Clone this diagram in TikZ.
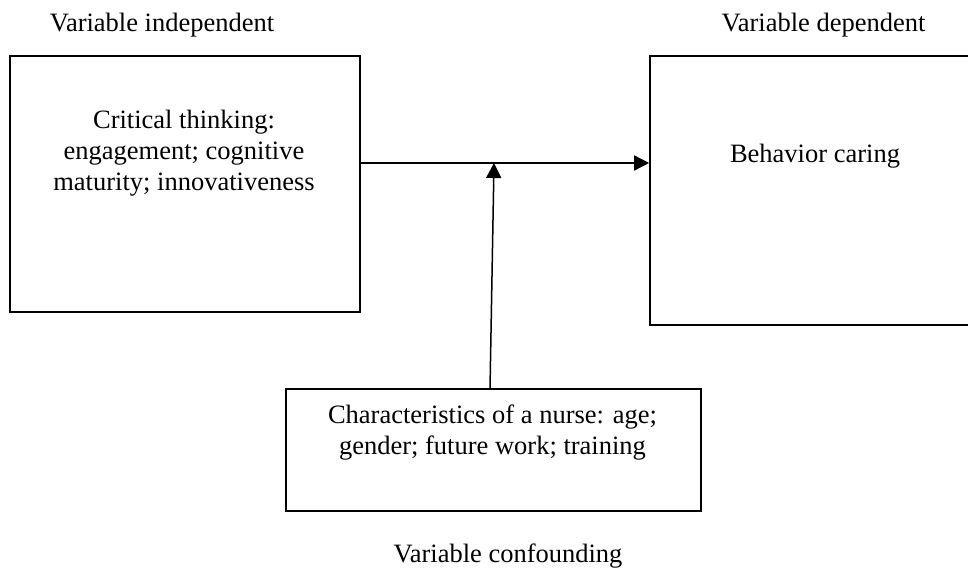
\documentclass[tikz,border=0pt]{standalone}
\usepackage{fontspec}
\setmainfont{Liberation Serif}
\usetikzlibrary{arrows.meta}
\tikzset{
  box/.style={draw, line width=1.6pt, rectangle, inner sep=0pt},
  txt/.style={inner sep=0pt, align=center, font=\fontsize{26.5}{31}\selectfont},
  conn/.style={line width=1.5pt, -{Triangle[length=15pt,width=15pt]}}
}
\begin{document}
\begin{tikzpicture}[x=1pt,y=1pt]
\clip (0,0) rectangle (968,-567);
\useasboundingbox (0,0) rectangle (968,-567);
% boxes
\node[box, minimum width=350pt, minimum height=256pt] (ind) at (185,-184) {};
\node[box, minimum width=340pt, minimum height=269pt] (dep) at (820,-190.5) {};
\node[box, minimum width=415pt, minimum height=122pt] (conf) at (493.5,-450) {};
% texts
\node[txt, anchor=base] (lind) at (162,-32) {Variable independent};
\node[txt, anchor=base] (ldep) at (823.5,-32) {Variable dependent};
\node[txt, anchor=base] (lconf) at (508,-562) {Variable confounding};
\node[txt, anchor=north] (tind) at (184,-110) {Critical thinking:\\engagement; cognitive\\maturity; innovativeness};
\node[txt, anchor=base] (tdep) at (815,-162) {Behavior caring};
\node[txt, anchor=north] (tconf) at (492.5,-405) {Characteristics of a nurse: age;\\gender; future work; training};
% connectors
\coordinate (junc) at (494,-163);
\coordinate (vbot) at (490,-389);
\draw[conn] (ind.east |- junc) -- (dep.west |- junc);
\draw[conn] (vbot) -- (junc);
\end{tikzpicture}
\end{document}
